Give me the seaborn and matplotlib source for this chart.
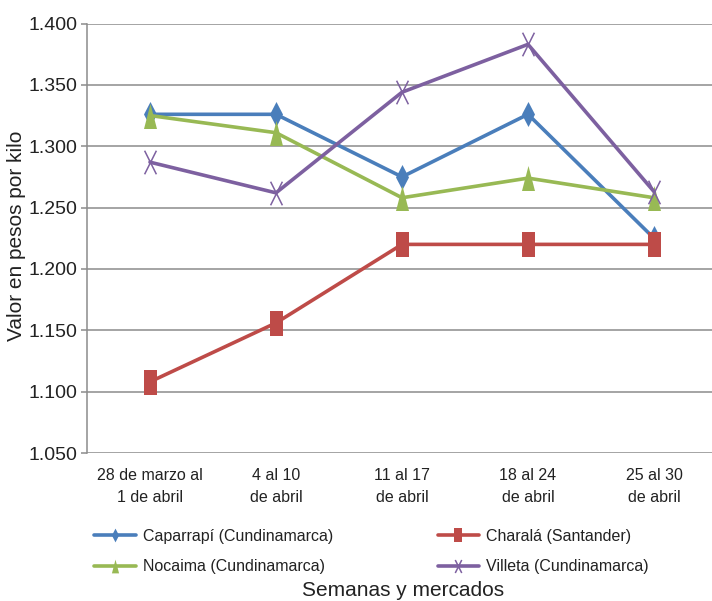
import matplotlib
matplotlib.use("Agg")
import matplotlib.pyplot as plt
from matplotlib.path import Path
import seaborn as sns
import pandas as pd

categories = ["28 de marzo al\n1 de abril", "4 al 10\nde abril", "11 al 17\nde abril",
              "18 al 24\nde abril", "25 al 30\nde abril"]
series_names = ["Caparrapí (Cundinamarca)", "Charalá (Santander)",
                "Nocaima (Cundinamarca)", "Villeta (Cundinamarca)"]
caparrapi = [1.326, 1.326, 1.275, 1.326, 1.225]
charala = [1.108, 1.156, 1.220, 1.220, 1.220]
nocaima = [1.325, 1.311, 1.258, 1.274, 1.258]
villeta = [1.287, 1.262, 1.344, 1.383, 1.263]
y_ticks = [1.050, 1.100, 1.150, 1.200, 1.250, 1.300, 1.350, 1.400]

values = [caparrapi, charala, nocaima, villeta]
rows = []
for name, vals in zip(series_names, values):
    for i, v in enumerate(vals):
        rows.append({"semana": i, "valor": v, "mercado": name})
df = pd.DataFrame(rows)

sns.set_theme(style="white")
plt.rcParams["font.family"] = ["Liberation Sans", "DejaVu Sans"]

colors = ["#4A7EBB", "#BE4B48", "#98B954", "#7D60A0"]

diamond = Path([(0, 1), (0.52, 0), (0, -1), (-0.52, 0), (0, 1)],
               [Path.MOVETO, Path.LINETO, Path.LINETO, Path.LINETO, Path.CLOSEPOLY])
square = Path([(-0.52, -1), (0.52, -1), (0.52, 1), (-0.52, 1), (-0.52, -1)],
              [Path.MOVETO, Path.LINETO, Path.LINETO, Path.LINETO, Path.CLOSEPOLY])
triangle = Path([(0, 1), (0.52, -1), (-0.52, -1), (0, 1)],
                [Path.MOVETO, Path.LINETO, Path.LINETO, Path.CLOSEPOLY])
xmark = Path([(-0.5, -1), (0.5, 1), (-0.5, 1), (0.5, -1)],
             [Path.MOVETO, Path.LINETO, Path.MOVETO, Path.LINETO])
markers = [diamond, square, triangle, xmark]

fig = plt.figure(figsize=(7.12, 6.01), dpi=100)
ax = fig.add_axes([87 / 712, (601 - 453) / 601, 630 / 712, (453 - 23.5) / 601])

for name, col, mk in zip(series_names, colors, markers):
    sub = df[df["mercado"] == name]
    kw = dict(marker=mk, markersize=18, markeredgewidth=0, markerfacecolor=col)
    if mk is xmark:
        kw = dict(marker=mk, markersize=17, markeredgewidth=1.1,
                  markerfacecolor="none", markeredgecolor=col)
    sns.lineplot(data=sub, x="semana", y="valor", color=col, linewidth=2.6,
                 label=name, ax=ax, **kw)

ax.set_xlim(-0.5, 4.5)
ax.set_ylim(1.050, 1.400)
ax.set_yticks(y_ticks)
ax.set_yticklabels([f"{t:.3f}" for t in y_ticks], fontsize=14, color="#222222")
ax.set_xticks(range(len(categories)))
ax.set_xticklabels(categories, fontsize=11.5, color="#222222", linespacing=1.55)
ax.grid(axis="y", color="#8c8c8c", linewidth=1.1)
ax.grid(axis="x", visible=False)
for s in ["top", "right", "bottom"]:
    ax.spines[s].set_visible(False)
ax.spines["left"].set_color("#8c8c8c")
ax.spines["left"].set_linewidth(1.1)
ax.tick_params(axis="y", length=4, width=1.1, color="#8c8c8c", pad=3, left=True)
ax.tick_params(axis="x", length=0, pad=11)
ax.set_xlabel("")
ax.set_ylabel("")

fig.text(17 / 712, 1 - 236 / 601, "Valor en pesos por kilo", rotation=90,
         ha="center", va="center", fontsize=15, color="#222222")
fig.text(403 / 712, 1 - 590 / 601, "Semanas y mercados", ha="center", va="center",
         fontsize=15, color="#222222")

handles, labels = ax.get_legend_handles_labels()
order = [0, 2, 1, 3]
leg = ax.legend([handles[i] for i in order], [labels[i] for i in order], ncol=2,
                loc="upper left",
                bbox_to_anchor=(94 / 712, 1 - 529 / 601), bbox_transform=fig.transFigure,
                frameon=False, prop={"size": 11.5}, markerscale=0.55,
                handlelength=2.6, handletextpad=0.45, columnspacing=6.55,
                labelspacing=0.95, borderaxespad=0, borderpad=0)
for t in leg.get_texts():
    t.set_color("#222222")

fig.savefig("out.png", dpi=100)
